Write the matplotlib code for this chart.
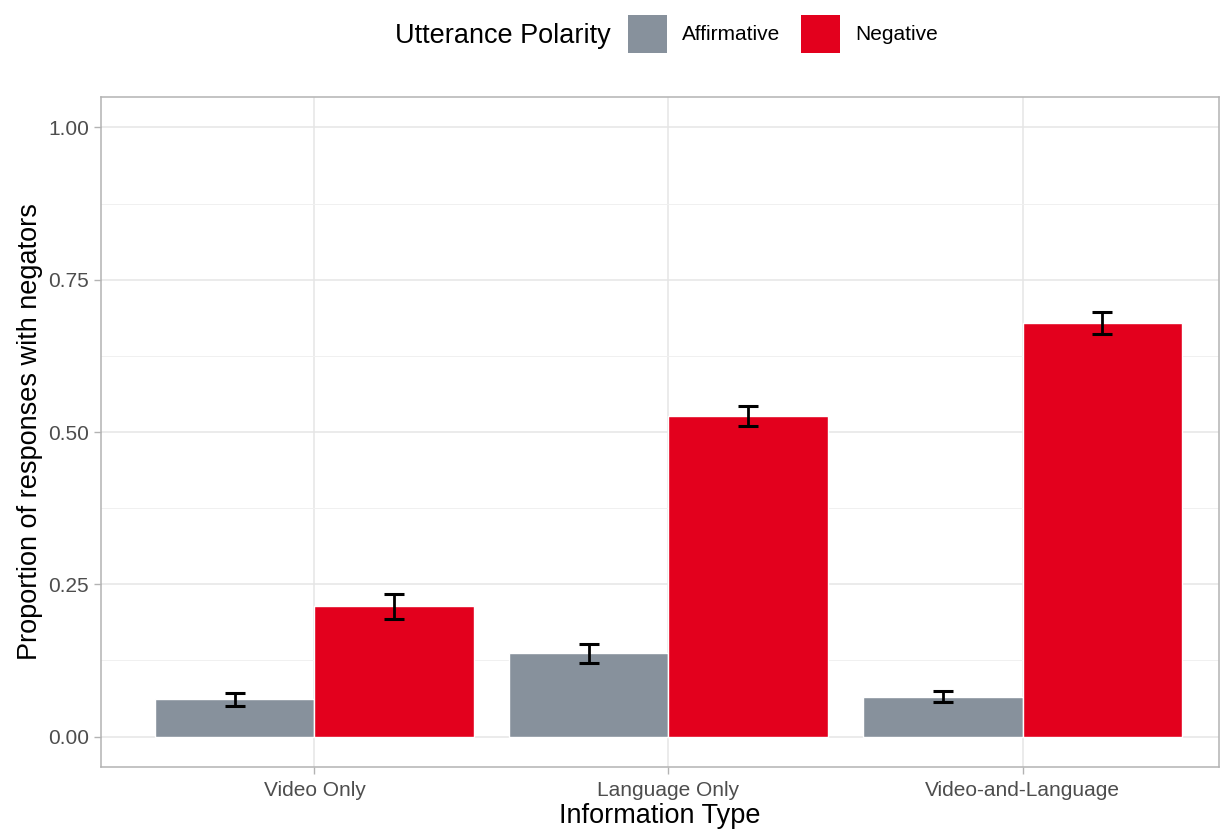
import matplotlib.pyplot as plt
from matplotlib.patches import Rectangle
import numpy as np

plt.rcParams['font.family'] = ['Liberation Sans', 'DejaVu Sans']

info_types = ["Video Only", "Language Only", "Video-and-Language"]
polarities = ["Affirmative", "Negative"]
affirmative = [0.061, 0.137, 0.065]
affirmative_err = [0.011, 0.0156, 0.009]
negative = [0.214, 0.527, 0.679]
negative_err = [0.0205, 0.0164, 0.0178]

colors = {"Affirmative": "#87919C", "Negative": "#E3001D"}

fig = plt.figure(figsize=(12.2, 8.31), dpi=100)
ax = fig.add_axes([101 / 1220, 64 / 831, 1118 / 1220, 670 / 831])

x = np.arange(1, len(info_types) + 1)
w = 0.45
for vals, errs, pol, off in [(affirmative, affirmative_err, "Affirmative", -w / 2),
                             (negative, negative_err, "Negative", w / 2)]:
    ax.bar(x + off, vals, width=w, color=colors[pol], edgecolor="white",
           linewidth=1.0, zorder=3)
    ax.errorbar(x + off, vals, yerr=errs, fmt="none", ecolor="black",
                elinewidth=2, capsize=7, capthick=2.2, zorder=4)

ax.set_xlim(0.397, 3.555)
ax.set_ylim(-0.05, 1.05)
ax.set_xticks(x)
ax.set_xticklabels(info_types)
ax.set_yticks([0, 0.25, 0.5, 0.75, 1.0])
ax.set_yticklabels(["0.00", "0.25", "0.50", "0.75", "1.00"])
ax.set_yticks([0.125, 0.375, 0.625, 0.875], minor=True)
ax.tick_params(axis="both", which="major", labelsize=15, colors="#B3B3B3",
               labelcolor="#4D4D4D", length=5, width=1)
ax.tick_params(axis="x", which="major", pad=5)
ax.tick_params(axis="y", which="minor", length=0)
ax.grid(True, which="major", color="#E5E5E5", linewidth=1.1, zorder=0)
ax.grid(True, which="minor", axis="y", color="#F0F0F0", linewidth=0.7, zorder=0)
ax.set_axisbelow(True)
for s in ax.spines.values():
    s.set_color("#B3B3B3")
    s.set_linewidth(1.1)

ax.set_xlabel("Information Type", fontsize=19.5, labelpad=2)
ax.set_ylabel("Proportion of responses with negators", fontsize=19.5, labelpad=4)

# legend on top
fig.text(395 / 1220, 1 - 36 / 831, "Utterance Polarity", fontsize=19.5,
         ha="left", va="center")
key_x = {"Affirmative": 628, "Negative": 801}
for pol in polarities:
    kx = key_x[pol]
    fig.patches.append(Rectangle((kx / 1220, 1 - 53 / 831), 39 / 1220, 38 / 831,
                                 transform=fig.transFigure, facecolor=colors[pol],
                                 edgecolor="none"))
    fig.text((kx + 54) / 1220, 1 - 35 / 831, pol, fontsize=15, ha="left",
             va="center")

fig.savefig("out.png", dpi=100, facecolor="white")
